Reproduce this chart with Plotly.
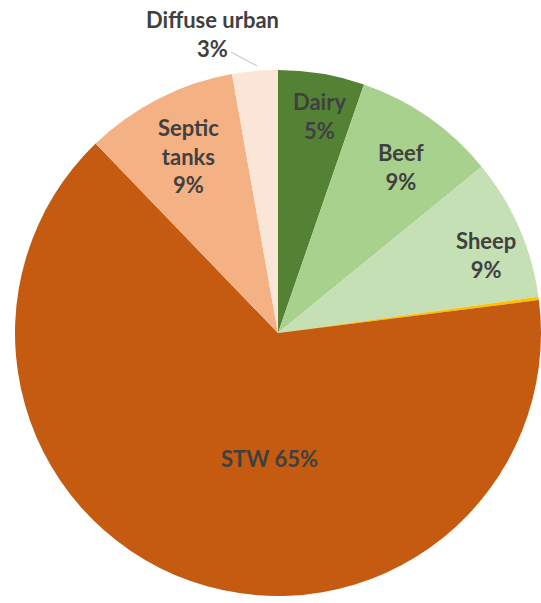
import plotly.graph_objects as go

labels = ["Dairy", "Beef", "Sheep", "Other", "STW", "Septic tanks", "Diffuse urban"]
values = [5.3, 8.8, 8.7, 0.2, 64.8, 9.4, 2.8]
colors = ["#548235", "#A9D18E", "#C5E0B4", "#FFC000", "#C55A11", "#F4B183", "#FBE5D6"]
label_text = ["Dairy", "Beef", "Sheep", "", "STW", "Septic<br>tanks", "Diffuse urban"]

W, H = 541, 603
total = sum(values)

fig = go.Figure(go.Pie(
    labels=labels,
    values=values,
    sort=False,
    direction="clockwise",
    rotation=0,
    marker=dict(colors=colors, line=dict(width=0)),
    textinfo="none",
    hoverinfo="label+percent",
    showlegend=False,
    domain=dict(x=[15 / W, 1.0], y=[1 - 596 / H, 1 - 70 / H]),
))

# label placement (pixel centres of each text block)
label_pos = {
    "Dairy": (319, 116),
    "Beef": (401, 167),
    "Sheep": (486, 255),
    "STW": (269, 458),
    "Septic tanks": (188, 156),
    "Diffuse urban": (212, 34),
}

for name, val, txt in zip(labels, values, label_text):
    if name not in label_pos:
        continue
    pct = round(val / total * 100)
    if name == "STW":
        text = f"{txt} {pct}%"
    else:
        text = f"{txt}<br>{pct}%"
    px, py = label_pos[name]
    fig.add_annotation(
        x=px / W, y=1 - py / H, xref="paper", yref="paper",
        text=text, showarrow=False, xanchor="center", yanchor="middle",
        font=dict(family="Lato", size=22, color="#404040", weight="bold"),
        align="center",
    )

# leader line for the outside label
fig.add_shape(type="line", xref="paper", yref="paper",
              x0=231 / W, y0=1 - 52 / H, x1=257 / W, y1=1 - 66 / H,
              line=dict(color="#BFBFBF", width=1))

fig.update_layout(
    width=W, height=H,
    margin=dict(l=0, r=0, t=0, b=0),
    paper_bgcolor="white",
    plot_bgcolor="white",
)

fig.write_html("out.html")
